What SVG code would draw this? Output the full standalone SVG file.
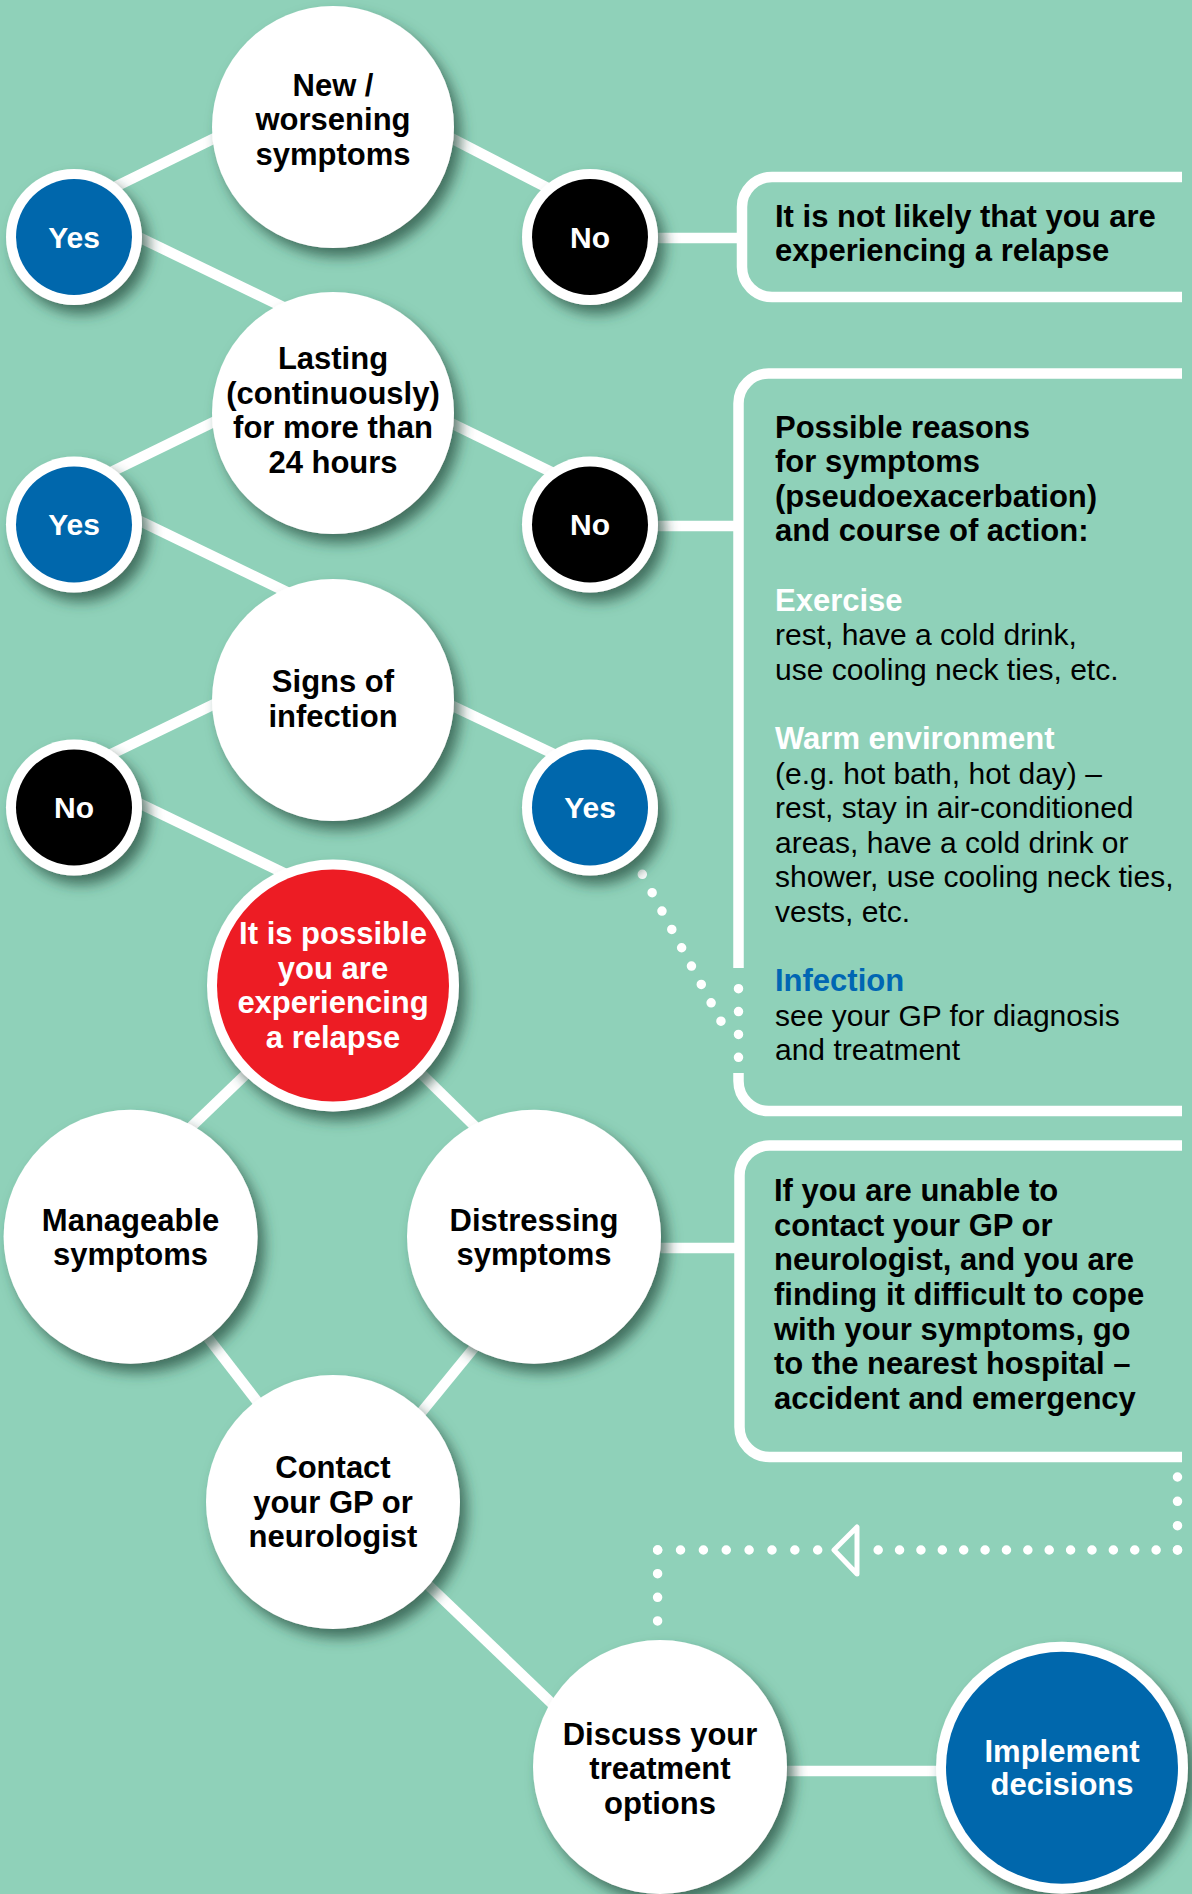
<svg xmlns="http://www.w3.org/2000/svg" width="1192" height="1894" viewBox="0 0 1192 1894">
<defs>
<filter id="sh" x="-30%" y="-30%" width="170%" height="170%">
<feDropShadow dx="7" dy="9" stdDeviation="7" flood-color="#264f40" flood-opacity="0.75"/>
</filter>
<style>
.conn{stroke:#fff;stroke-width:10.5;fill:none}
.box{stroke:#fff;stroke-width:10.5;fill:none}
.dots{stroke:#fff;stroke-width:9.5;stroke-linecap:round;fill:none}
.w{fill:#fff;filter:url(#sh)}
.ring{fill:#fff;filter:url(#sh)}
.blue{fill:#0067AC}
.blk{fill:#000}
.red{fill:#ED1C24}
text{font-family:"Liberation Sans",Arial,sans-serif}
.t{font-size:31px;font-weight:bold;text-anchor:middle;fill:#000}
.tw{font-size:31px;font-weight:bold;text-anchor:middle;fill:#fff}
.yn{font-size:30px;font-weight:bold;text-anchor:middle;fill:#fff}
.bb{font-size:31px;font-weight:bold;fill:#000}
.br{font-size:30px;fill:#000}
.hw{font-size:31px;font-weight:bold;fill:#fff}
.hb{font-size:31px;font-weight:bold;fill:#0066B3}
</style>
</defs>
<rect width="1192" height="1894" fill="#8FD1B9"/>

<g id="connectors">
<line class="conn" x1="100" y1="194.3" x2="260" y2="116"/>
<line class="conn" x1="420" y1="122" x2="580" y2="204.7"/>
<line class="conn" x1="110" y1="223.3" x2="320" y2="324.7"/>
<line class="conn" x1="100" y1="477.4" x2="260" y2="399.5"/>
<line class="conn" x1="420" y1="408" x2="580" y2="486"/>
<line class="conn" x1="110" y1="506.5" x2="320" y2="608"/>
<line class="conn" x1="100" y1="759.5" x2="260" y2="681.9"/>
<line class="conn" x1="420" y1="690.5" x2="580" y2="766.4"/>
<line class="conn" x1="110" y1="789.3" x2="320" y2="890.5"/>
<line class="conn" x1="273.8" y1="1047.3" x2="163.2" y2="1153.7"/>
<line class="conn" x1="395" y1="1048" x2="500" y2="1151"/>
<line class="conn" x1="180" y1="1301.5" x2="280" y2="1431"/>
<line class="conn" x1="500" y1="1316" x2="400" y2="1438.5"/>
<line class="conn" x1="400" y1="1558" x2="590" y2="1740"/>
<line class="conn" x1="600" y1="238" x2="742" y2="238"/>
<line class="conn" x1="600" y1="526" x2="738.5" y2="526"/>
<line class="conn" x1="600" y1="1248" x2="739.5" y2="1248"/>
<line class="conn" x1="700" y1="1771" x2="1000" y2="1771"/>
<path class="dots" d="M642.3,874.3 L721,1021.3" stroke-dasharray="0 20.83"/>
<path class="dots" d="M738.5,988.7 V1057.3" stroke-dasharray="0 22.86"/>
<path class="dots" d="M1177.5,1477 V1550" stroke-dasharray="0 24.32"/>
<path class="dots" d="M1177.5,1550 H878" stroke-dasharray="0 21.38"/>
<path class="dots" d="M817.7,1550 H657.6" stroke-dasharray="0 22.86"/>
<path class="dots" d="M657.6,1550 V1621" stroke-dasharray="0 23.66"/>
<polygon points="834,1550 857,1527 857,1574" fill="none" stroke="#fff" stroke-width="5" stroke-linejoin="round"/>
</g>

<g id="box1">
<path class="box" d="M1182,177 H772 A30,30 0 0 0 742,207 V267 A30,30 0 0 0 772,297 H1182"/>
<text class="bb" x="775" y="227.3">It is not likely that you are</text>
<text class="bb" x="775" y="260.5">experiencing a relapse</text>
</g>

<g id="box2">
<path class="box" d="M1182,373.5 H768.5 A30,30 0 0 0 738.5,403.5 V968"/>
<path class="box" d="M738.5,1073 V1081 A30,30 0 0 0 768.5,1111 H1182"/>
<text class="bb" x="775" y="437.5">Possible reasons</text>
<text class="bb" x="775" y="472">for symptoms</text>
<text class="bb" x="775" y="506.5">(pseudoexacerbation)</text>
<text class="bb" x="775" y="541">and course of action:</text>
<text class="hw" x="775" y="610.5">Exercise</text>
<text class="br" x="775" y="645">rest, have a cold drink,</text>
<text class="br" x="775" y="679.5">use cooling neck ties, etc.</text>
<text class="hw" x="775" y="749">Warm environment</text>
<text class="br" x="775" y="783.5">(e.g. hot bath, hot day) –</text>
<text class="br" x="775" y="818">rest, stay in air-conditioned</text>
<text class="br" x="775" y="852.5">areas, have a cold drink or</text>
<text class="br" x="775" y="887">shower, use cooling neck ties,</text>
<text class="br" x="775" y="921.5">vests, etc.</text>
<text class="hb" x="775" y="991">Infection</text>
<text class="br" x="775" y="1025.5">see your GP for diagnosis</text>
<text class="br" x="775" y="1060">and treatment</text>
</g>

<g id="box3">
<path class="box" d="M1182,1145.6 H769.5 A30,30 0 0 0 739.5,1175.6 V1427 A30,30 0 0 0 769.5,1457 H1182"/>
<text class="bb" x="774" y="1201">If you are unable to</text>
<text class="bb" x="774" y="1235.7">contact your GP or</text>
<text class="bb" x="774" y="1270.4">neurologist, and you are</text>
<text class="bb" x="774" y="1305">finding it difficult to cope</text>
<text class="bb" x="774" y="1339.7">with your symptoms, go</text>
<text class="bb" x="774" y="1374.4">to the nearest hospital –</text>
<text class="bb" x="774" y="1409">accident and emergency</text>
</g>

<g id="n-new">
<circle class="w" cx="333" cy="127" r="121"/>
<text class="t" x="333" y="95.7">New /</text>
<text class="t" x="333" y="130">worsening</text>
<text class="t" x="333" y="164.6">symptoms</text>
</g>
<g id="n-yes1">
<circle class="ring" cx="74" cy="237" r="68"/>
<circle class="blue" cx="74" cy="237" r="58"/>
<text class="yn" x="74" y="247.5">Yes</text>
</g>
<g id="n-no1">
<circle class="ring" cx="590" cy="237" r="68"/>
<circle class="blk" cx="590" cy="237" r="58"/>
<text class="yn" x="590" y="247.5">No</text>
</g>
<g id="n-lasting">
<circle class="w" cx="333" cy="413" r="121"/>
<text class="t" x="333" y="369.3">Lasting</text>
<text class="t" x="333" y="403.7">(continuously)</text>
<text class="t" x="333" y="438.2">for more than</text>
<text class="t" x="333" y="472.6">24 hours</text>
</g>
<g id="n-yes2">
<circle class="ring" cx="74" cy="524.5" r="68"/>
<circle class="blue" cx="74" cy="524.5" r="58"/>
<text class="yn" x="74" y="535">Yes</text>
</g>
<g id="n-no2">
<circle class="ring" cx="590" cy="524.5" r="68"/>
<circle class="blk" cx="590" cy="524.5" r="58"/>
<text class="yn" x="590" y="535">No</text>
</g>
<g id="n-signs">
<circle class="w" cx="333" cy="700" r="121"/>
<text class="t" x="333" y="692.4">Signs of</text>
<text class="t" x="333" y="726.8">infection</text>
</g>
<g id="n-no3">
<circle class="ring" cx="74" cy="807.5" r="68"/>
<circle class="blk" cx="74" cy="807.5" r="58"/>
<text class="yn" x="74" y="818">No</text>
</g>
<g id="n-yes3">
<circle class="ring" cx="590" cy="807.5" r="68"/>
<circle class="blue" cx="590" cy="807.5" r="58"/>
<text class="yn" x="590" y="818">Yes</text>
</g>
<g id="n-relapse">
<circle class="ring" cx="333" cy="985.5" r="126"/>
<circle class="red" cx="333" cy="985.5" r="116"/>
<text class="tw" x="333" y="944.2">It is possible</text>
<text class="tw" x="333" y="978.6">you are</text>
<text class="tw" x="333" y="1013">experiencing</text>
<text class="tw" x="333" y="1047.5">a relapse</text>
</g>
<g id="n-manageable">
<circle class="w" cx="130.6" cy="1236.7" r="127"/>
<text class="t" x="130.6" y="1230.5">Manageable</text>
<text class="t" x="130.6" y="1264.5">symptoms</text>
</g>
<g id="n-distressing">
<circle class="w" cx="534" cy="1236.7" r="127"/>
<text class="t" x="534" y="1230.5">Distressing</text>
<text class="t" x="534" y="1264.5">symptoms</text>
</g>
<g id="n-contact">
<circle class="w" cx="333" cy="1502" r="127"/>
<text class="t" x="333" y="1478">Contact</text>
<text class="t" x="333" y="1513">your GP or</text>
<text class="t" x="333" y="1547">neurologist</text>
</g>
<g id="n-discuss">
<circle class="w" cx="660" cy="1767" r="127"/>
<text class="t" x="660" y="1745">Discuss your</text>
<text class="t" x="660" y="1779">treatment</text>
<text class="t" x="660" y="1813.5">options</text>
</g>
<g id="n-implement">
<circle class="ring" cx="1062" cy="1767.7" r="126"/>
<circle class="blue" cx="1062" cy="1767.7" r="116"/>
<text class="tw" x="1062" y="1761.7">Implement</text>
<text class="tw" x="1062" y="1795">decisions</text>
</g>
</svg>
